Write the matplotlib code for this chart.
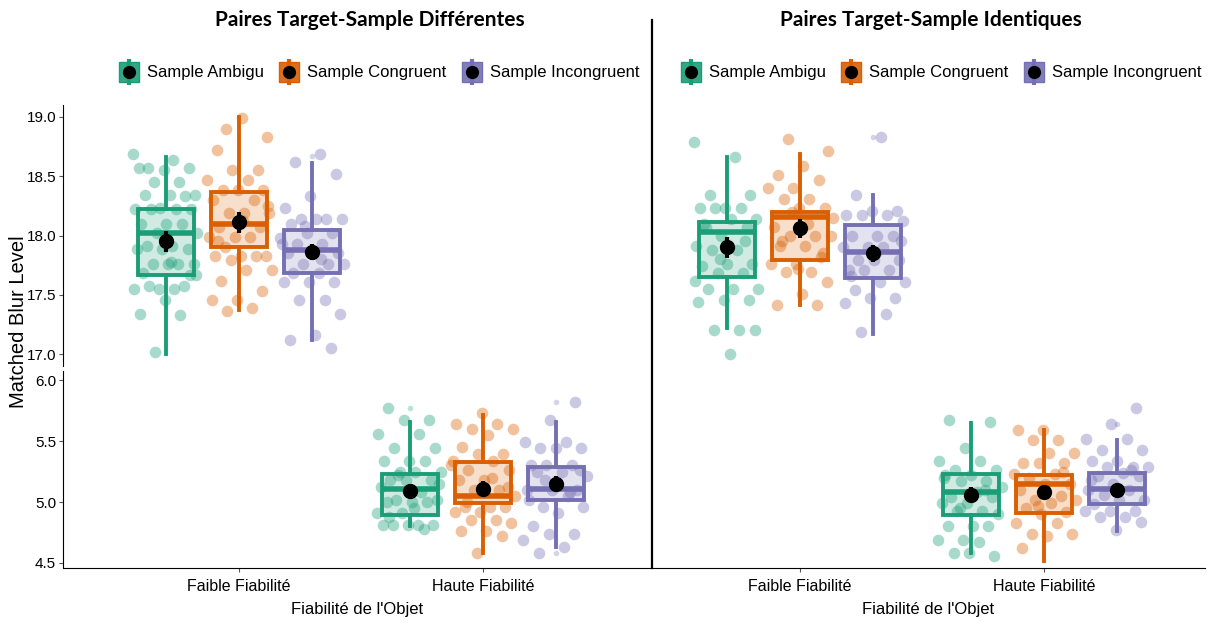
import numpy as np
import matplotlib
matplotlib.use("Agg")
import matplotlib.pyplot as plt
from matplotlib.lines import Line2D
from matplotlib.legend_handler import HandlerTuple
from matplotlib.colors import to_rgba

plt.rcParams['font.family'] = ['Liberation Sans', 'DejaVu Sans']

# ---- data ----
panels = ["Paires Target-Sample Différentes", "Paires Target-Sample Identiques"]
reliab = ["Faible Fiabilité", "Haute Fiabilité"]
samples = ["Sample Ambigu", "Sample Congruent", "Sample Incongruent"]
colors = ["#1B9E77", "#D95F02", "#7570B3"]

# raw points: [panel][reliability][sample]
diff_faible_amb = [18.69, 18.64, 18.57, 18.57, 18.55, 18.57, 18.45, 18.45, 18.34, 18.34, 18.34, 18.33,
                   18.23, 18.22, 18.22, 18.22, 18.22, 18.10, 18.10, 18.10, 18.02, 18.02, 17.91, 17.91,
                   17.89, 17.89, 17.89, 17.76, 17.76, 17.76, 17.76, 17.68, 17.57, 17.55, 17.55, 17.55,
                   17.57, 17.67, 17.46, 17.34, 17.33, 17.02, 17.67, 17.78]
diff_faible_cong = [18.90, 18.83, 18.99, 18.72, 18.55, 18.55, 18.47, 18.47, 18.38, 18.38, 18.38, 18.30,
                    18.30, 18.19, 18.19, 18.19, 18.07, 18.07, 17.99, 17.99, 17.99, 17.90, 17.83, 17.83,
                    17.83, 17.83, 17.79, 17.71, 17.71, 17.62, 17.53, 17.46, 17.46, 17.39, 17.36, 18.25,
                    18.12, 17.95]
diff_faible_inc = [18.69, 18.62, 18.52, 18.33, 18.23, 18.14, 18.14, 18.14, 18.14, 18.10, 18.02, 18.02,
                   17.93, 17.93, 17.93, 17.85, 17.85, 17.85, 17.76, 17.76, 17.76, 17.68, 17.68, 17.61,
                   17.61, 17.61, 17.46, 17.46, 17.34, 17.16, 17.12, 17.05, 18.08, 17.98, 17.80]
diff_haute_amb = [5.77, 5.67, 5.67, 5.56, 5.56, 5.44, 5.44, 5.34, 5.34, 5.34, 5.25, 5.25, 5.25, 5.18,
                  5.18, 5.18, 5.12, 5.08, 5.02, 5.02, 5.00, 5.00, 5.00, 4.91, 4.91, 4.81, 4.81, 4.81,
                  4.81, 4.81, 4.78, 5.22, 5.15, 4.95, 4.88]
diff_haute_cong = [5.73, 5.64, 5.64, 5.60, 5.60, 5.55, 5.45, 5.39, 5.39, 5.34, 5.34, 5.26, 5.26, 5.18,
                   5.18, 5.10, 5.10, 5.05, 4.96, 4.96, 4.96, 4.92, 4.92, 4.85, 4.85, 4.83, 4.76, 4.76,
                   4.72, 4.58, 5.30, 5.20, 5.00, 5.12]
diff_haute_inc = [5.82, 5.67, 5.49, 5.49, 5.44, 5.44, 5.44, 5.30, 5.30, 5.30, 5.21, 5.25, 5.25, 5.10,
                  5.10, 5.10, 5.05, 4.96, 4.96, 4.91, 4.80, 4.74, 4.74, 4.69, 4.63, 4.58, 5.26, 5.15,
                  5.02, 5.08, 5.18]
iden_faible_amb = [18.79, 18.66, 18.34, 18.34, 18.23, 18.23, 18.23, 18.23, 18.14, 18.14, 18.07, 18.07,
                   18.00, 17.91, 17.88, 17.88, 17.76, 17.76, 17.74, 17.68, 17.68, 17.55, 17.55, 17.55,
                   17.46, 17.46, 17.44, 17.20, 17.20, 17.20, 17.00, 18.10, 17.95, 17.80, 17.62]
iden_faible_cong = [18.81, 18.71, 18.59, 18.51, 18.47, 18.40, 18.40, 18.31, 18.31, 18.23, 18.23, 18.07,
                    18.00, 18.00, 18.00, 17.91, 17.91, 17.82, 17.76, 17.76, 17.69, 17.69, 17.61, 17.51,
                    17.41, 17.41, 18.20, 18.15, 18.10, 17.95, 17.85, 17.72]
iden_faible_inc = [18.83, 18.34, 18.21, 18.21, 18.17, 18.17, 18.17, 18.12, 18.00, 18.00, 18.00, 17.90,
                   17.90, 17.90, 17.79, 17.79, 17.79, 17.71, 17.71, 17.71, 17.61, 17.61, 17.54, 17.47,
                   17.47, 17.43, 17.34, 17.19, 17.95, 17.85, 17.66]
iden_haute_amb = [5.67, 5.66, 5.44, 5.34, 5.34, 5.26, 5.26, 5.22, 5.22, 5.17, 5.17, 5.12, 5.08, 5.04,
                  5.04, 4.99, 4.99, 4.93, 4.93, 4.90, 4.80, 4.80, 4.80, 4.69, 4.69, 4.67, 4.58, 4.56,
                  4.58, 5.20, 5.10, 4.95]
iden_haute_cong = [5.59, 5.59, 5.51, 5.51, 5.40, 5.40, 5.32, 5.32, 5.32, 5.23, 5.23, 5.20, 5.15, 5.15,
                   5.10, 5.05, 5.02, 5.02, 4.99, 4.95, 4.92, 4.90, 4.83, 4.83, 4.74, 4.74, 4.72, 4.62,
                   5.25, 4.97]
iden_haute_inc = [5.77, 5.64, 5.52, 5.52, 5.43, 5.43, 5.34, 5.34, 5.29, 5.29, 5.29, 5.24, 5.21, 5.21,
                  5.15, 5.10, 5.10, 5.06, 5.02, 5.02, 4.98, 4.93, 4.93, 4.93, 4.88, 4.88, 4.84, 4.77,
                  5.18, 5.26]

points = [
    [[diff_faible_amb, diff_faible_cong, diff_faible_inc],
     [diff_haute_amb, diff_haute_cong, diff_haute_inc]],
    [[iden_faible_amb, iden_faible_cong, iden_faible_inc],
     [iden_haute_amb, iden_haute_cong, iden_haute_inc]],
]

# box stats: (median, q1, q3, whisker low, whisker high)
box_stats = [
    [[(18.02, 17.67, 18.22, 17.00, 18.66), (18.10, 17.90, 18.37, 17.37, 19.00), (17.88, 17.68, 18.05, 17.12, 18.61)],
     [(5.11, 4.89, 5.23, 4.80, 5.66), (5.05, 4.99, 5.33, 4.58, 5.71), (5.11, 5.02, 5.29, 4.63, 5.66)]],
    [[(18.03, 17.65, 18.11, 17.22, 18.66), (18.16, 17.79, 18.20, 17.41, 18.69), (17.86, 17.64, 18.09, 17.17, 18.34)],
     [(5.08, 4.89, 5.23, 4.58, 5.65), (5.15, 4.91, 5.22, 4.52, 5.59), (5.11, 4.98, 5.24, 4.76, 5.51)]],
]
outliers = [
    [[[], [], [18.67]], [[5.77], [], [5.82, 4.58]]],
    [[[], [], [18.83]], [[], [], [5.64]]],
]
means = [
    [[17.95, 18.11, 17.86], [5.09, 5.11, 5.15]],
    [[17.90, 18.06, 17.85], [5.06, 5.08, 5.10]],
]
se = [
    [[0.09, 0.09, 0.07], [0.06, 0.06, 0.06]],
    [[0.09, 0.08, 0.07], [0.06, 0.05, 0.05]],
]

W, H = 1212, 623
fig = plt.figure(figsize=(W / 100, H / 100), dpi=100)

def fx(px):
    return px / W

def fy(py):
    return 1 - py / H

panel_x = [(63, 652), (652, 1205)]
xlims = [(0.279, 2.693), (0.393, 2.66)]
dodge = [-0.3, 0.0, 0.3]
box_w = 0.23

for p in range(2):
    x0, x1 = panel_x[p]
    ax_top = fig.add_axes([fx(x0), fy(366), fx(x1 - x0), fy(105) - fy(366)])
    ax_bot = fig.add_axes([fx(x0), fy(568), fx(x1 - x0), fy(371) - fy(568)])
    for ax in (ax_top, ax_bot):
        ax.set_xlim(*xlims[p])
        for r in range(2):
            for s in range(3):
                pos = r + 1 + dodge[s]
                c = colors[s]
                vals = np.array(points[p][r][s])
                n = len(vals)
                jit = ((np.arange(n) * 0.618034 + 0.31 * s + 0.17 * r) % 1 - 0.5) * 0.27
                ax.scatter(pos + jit, vals, s=70, color=c, alpha=0.38, linewidths=0, zorder=2)
                med, q1, q3, lo, hi = box_stats[p][r][s]
                st = [dict(med=med, q1=q1, q3=q3, whislo=lo, whishi=hi,
                           fliers=outliers[p][r][s])]
                ax.bxp(st, positions=[pos], widths=box_w, patch_artist=True, showcaps=False,
                       boxprops=dict(facecolor=to_rgba(c, 0.2), edgecolor=c, linewidth=2.8),
                       whiskerprops=dict(color=c, linewidth=2.8),
                       medianprops=dict(color=c, linewidth=4),
                       flierprops=dict(marker='o', markersize=4, markerfacecolor=c,
                                       markeredgecolor='none', alpha=0.3),
                       manage_ticks=False, zorder=3)
                ax.errorbar([pos], [means[p][r][s]], yerr=[se[p][r][s]], fmt='o', color='black',
                            markersize=10, elinewidth=3, capsize=0, zorder=5)
        for sp in ('top', 'right'):
            ax.spines[sp].set_visible(False)

    ax_top.set_ylim(16.899, 19.101)
    ax_bot.set_ylim(4.459, 6.074)
    ax_top.spines['bottom'].set_visible(False)
    ax_top.set_xticks([])
    ax_bot.set_xticks([1, 2])
    ax_bot.set_xticklabels(reliab, fontsize=11.5)
    ax_bot.tick_params(axis='x', length=3, color='#555555', pad=5)
    if p == 0:
        ax_top.set_yticks([17.0, 17.5, 18.0, 18.5, 19.0])
        ax_top.set_yticklabels(["17.0", "17.5", "18.0", "18.5", "19.0"])
        ax_bot.set_yticks([4.5, 5.0, 5.5, 6.0])
        ax_bot.set_yticklabels(["4.5", "5.0", "5.5", "6.0"])
        for ax in (ax_top, ax_bot):
            ax.tick_params(axis='y', labelsize=11, length=3, color='#555555', pad=2)
    else:
        for ax in (ax_top, ax_bot):
            ax.spines['left'].set_visible(False)
            ax.set_yticks([])
    ax_bot.set_xlabel("Fiabilité de l'Objet", fontsize=12, labelpad=6)

    # legend: coloured box key with whisker stub and black mean dot
    handles = []
    for c in colors:
        handles.append((
            Line2D([], [], color=c, marker='|', markersize=19, markeredgewidth=3, linestyle='None'),
            Line2D([], [], marker='s', markersize=14, markerfacecolor=to_rgba(c, 0.9),
                   markeredgecolor=c, linestyle='None'),
            Line2D([], [], marker='o', markersize=8.5, color='black', linestyle='None'),
        ))
    lx = [379, 941][p]
    fig.legend(handles, samples, handler_map={tuple: HandlerTuple(ndivide=1)},
               loc='center', bbox_to_anchor=(fx(lx), fy(73)), ncol=3, frameon=False,
               handlelength=1.2, columnspacing=0.9, handletextpad=0.5, fontsize=12)

    tx = [370, 931][p]
    fig.text(fx(tx), fy(20), panels[p], ha='center', va='center', fontsize=15,
             fontweight='bold', family=['Lato', 'DejaVu Sans'])

fig.text(fx(19), fy(322), "Matched Blur Level", rotation=90, ha='center', va='center', fontsize=14.5)
fig.add_artist(Line2D([fx(652), fx(652)], [fy(20), fy(568)], color='black', linewidth=1.6))

fig.savefig("out.png", dpi=100)
